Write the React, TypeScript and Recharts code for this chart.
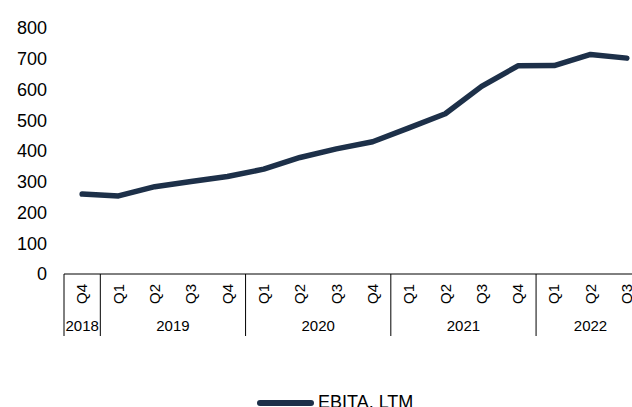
import { LineChart, Line, XAxis, YAxis, Legend } from 'recharts';

// categories
const quarters = ['Q4', 'Q1', 'Q2', 'Q3', 'Q4', 'Q1', 'Q2', 'Q3', 'Q4', 'Q1', 'Q2', 'Q3', 'Q4', 'Q1', 'Q2', 'Q3'];
const years = ['2018', '2019', '2019', '2019', '2019', '2020', '2020', '2020', '2020', '2021', '2021', '2021', '2021', '2022', '2022', '2022'];
// series
const ebitaLtm = [260, 254, 284, 301, 317, 341, 379, 407, 430, 475, 521, 610, 677, 678, 714, 702];
const yTicks = [0, 100, 200, 300, 400, 500, 600, 700, 800];

const data = quarters.map((q, i) => ({ key: `${years[i]}-${q}`, q, year: years[i], value: ebitaLtm[i] }));

const LINE_COLOR = '#1d3049';
const FONT = '"Liberation Sans", Arial, sans-serif';
const PLOT_LEFT = 64;
const PLOT_RIGHT = 645;
const BAND = (PLOT_RIGHT - PLOT_LEFT) / quarters.length;

function QuarterTick(props: any) {
  const { x, y, payload } = props;
  const i = payload.index;
  const q = quarters[i];
  const yr = years[i];
  const isStart = i === 0 || years[i - 1] !== yr;
  let span = 0;
  if (isStart) {
    for (let j = i; j < years.length && years[j] === yr; j++) span++;
  }
  const left = x - BAND / 2;
  return (
    <g>
      <text
        x={x}
        y={y + 10}
        transform={`rotate(-90, ${x}, ${y + 10})`}
        textAnchor="end"
        dy="0.35em"
        fontSize={15}
        fontFamily={FONT}
        fill="#000"
      >
        {q}
      </text>
      {isStart && <line x1={left} y1={y} x2={left} y2={y + 62} stroke="#000" strokeWidth={1} />}
      {isStart && (
        <text x={left + (span * BAND) / 2} y={y + 52} textAnchor="middle" dy="0.35em" fontSize={15} fontFamily={FONT} fill="#000">
          {yr}
        </text>
      )}
    </g>
  );
}

function LegendContent() {
  return (
    <div style={{ height: 20, position: 'relative', width: 632 }}>
      <svg width={632} height={20} style={{ display: 'block' }}>
        <line x1={260} y1={9} x2={311} y2={9} stroke={LINE_COLOR} strokeWidth={6} strokeLinecap="round" />
        <text x={318} y={8} dy="0.35em" fontSize={18} fontFamily={FONT} fill="#000">
          EBITA, LTM
        </text>
      </svg>
    </div>
  );
}

export default function App() {
  return (
    <div style={{ position: 'absolute', left: 0, top: 0, width: 632, height: 407, overflow: 'hidden', background: '#fff' }}>
      <LineChart width={660} height={420} data={data} margin={{ top: 28, right: 660 - PLOT_RIGHT, bottom: 66, left: 0 }}>
        <XAxis
          dataKey="key"
          interval={0}
          tickLine={false}
          tickSize={0}
          tickMargin={0}
          height={60}
          stroke="#000"
          padding={{ left: BAND / 2, right: BAND / 2 }}
          tick={<QuarterTick />}
        />
        <YAxis
          width={PLOT_LEFT}
          domain={[0, 800]}
          ticks={yTicks}
          axisLine={false}
          tickLine={false}
          tickSize={0}
          tickMargin={17}
          tick={{ fontSize: 18, fontFamily: FONT, fill: '#000' }}
        />
        <Legend content={<LegendContent />} wrapperStyle={{ top: 394, left: 0, bottom: 'auto' }} />
        <Line
          dataKey="value"
          name="EBITA, LTM"
          stroke={LINE_COLOR}
          strokeWidth={5.5}
          strokeLinecap="round"
          strokeLinejoin="round"
          dot={false}
          activeDot={false}
          isAnimationActive={false}
        />
      </LineChart>
    </div>
  );
}
